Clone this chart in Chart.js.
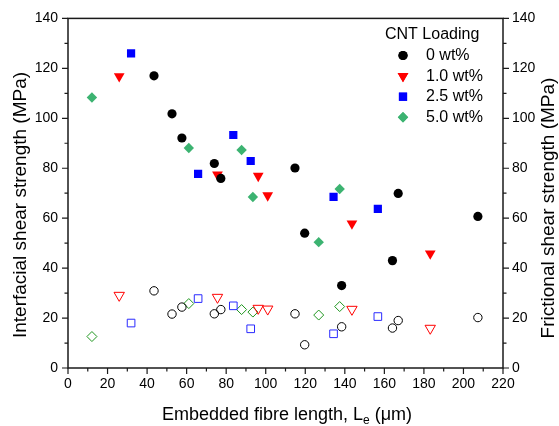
<!DOCTYPE html>
<html>
<head>
<meta charset="utf-8">
<script src="https://cdn.jsdelivr.net/npm/chart.js@4"></script>
<style>
  html, body { margin: 0; padding: 0; background: #fff; }
  #wrap { width: 559px; height: 426px; }
</style>
</head>
<body>
<div id="wrap"><canvas id="chart" width="559" height="426"></canvas></div>
<script>
const loadings = ["0 wt%", "1.0 wt%", "2.5 wt%", "5.0 wt%"];

// embedded length (µm), interfacial shear strength (MPa), frictional shear strength (MPa)
const len0 = [43.5, 52.6, 57.6, 74.0, 77.3, 114.8, 119.7, 138.4, 164.1, 167.0, 207.3];
const ifss0 = [117.0, 101.8, 92.1, 81.9, 75.9, 80.1, 54.0, 33.0, 43.0, 69.9, 60.7];
const fric0 = [30.9, 21.6, 24.4, 21.7, 23.4, 21.7, 9.3, 16.5, 16.0, 19.0, 20.2];

const len1 = [25.9, 75.6, 96.2, 101.0, 143.6, 183.2];
const ifss1 = [116.8, 77.4, 76.9, 69.1, 57.8, 45.8];
const fric1 = [29.1, 28.3, 23.9, 23.6, 23.5, 15.9];

const len25 = [31.9, 65.8, 83.6, 92.4, 134.3, 156.7];
const ifss25 = [126.0, 77.7, 93.3, 82.9, 68.5, 63.7];
const fric25 = [18.0, 27.8, 24.9, 15.7, 13.7, 20.6];

const len5 = [12.1, 61.1, 87.8, 93.5, 126.8, 137.4];
const ifss5 = [108.3, 88.1, 87.3, 68.5, 50.4, 71.7];
const fric5 = [12.6, 25.8, 23.4, 22.4, 21.2, 24.6];

const xTicks = [0, 20, 40, 60, 80, 100, 120, 140, 160, 180, 200, 220];
const yTicks = [0, 20, 40, 60, 80, 100, 120, 140];

const FONT = "'Liberation Sans', Arial, sans-serif";

const pts = (xs, ys) => xs.map((x, i) => ({ x: x, y: ys[i] }));

const styles = [
  { fill: "#000000", open: "#000000", shape: "circle", r: 4.6, ro: 4.2, rot: 0 },
  { fill: "#ff0000", open: "#ff0000", shape: "triangle", r: 6.2, ro: 6, rot: 180 },
  { fill: "#0000ff", open: "#2a2aff", shape: "rect", r: 5.8, ro: 5.4, rot: 0 },
  { fill: "#3cb371", open: "#1e961e", shape: "rectRot", r: 5.2, ro: 5, rot: 0 },
];

const lens = [len0, len1, len25, len5];
const ifss = [ifss0, ifss1, ifss25, ifss5];
const fric = [fric0, fric1, fric25, fric5];

const datasets = [];
loadings.forEach((name, i) => {
  const s = styles[i];
  datasets.push({
    label: name,
    data: pts(lens[i], ifss[i]),
    yAxisID: "y",
    pointStyle: s.shape,
    rotation: s.rot,
    pointRadius: s.r,
    backgroundColor: s.fill,
    borderColor: s.fill,
    borderWidth: 0,
    order: 1,
  });
});
loadings.forEach((name, i) => {
  const s = styles[i];
  datasets.push({
    label: name + " (frictional)",
    data: pts(lens[i], fric[i]),
    yAxisID: "y2",
    pointStyle: s.shape,
    rotation: s.rot,
    pointRadius: s.ro,
    backgroundColor: "rgba(0,0,0,0)",
    borderColor: s.open,
    borderWidth: 1,
    order: 2,
  });
});

// frame, minor/major ticks, axis titles and legend
const framePlugin = {
  id: "frame",
  afterDraw(chart) {
    const ctx = chart.ctx;
    const a = chart.chartArea;
    const xs = chart.scales.x, ys = chart.scales.y;
    ctx.save();
    ctx.strokeStyle = "#1a1a1a";
    ctx.lineWidth = 1.5;
    ctx.strokeRect(a.left, a.top, a.right - a.left, a.bottom - a.top);

    ctx.lineWidth = 1.2;
    ctx.beginPath();
    for (let v = 0; v <= 220; v += 10) {
      const px = xs.getPixelForValue(v);
      const l = v % 20 === 0 ? 6 : 3.5;
      ctx.moveTo(px, a.bottom);
      ctx.lineTo(px, a.bottom + l);
    }
    for (let v = 0; v <= 140; v += 10) {
      const py = ys.getPixelForValue(v);
      const l = v % 20 === 0 ? 6 : 3.5;
      ctx.moveTo(a.left, py);
      ctx.lineTo(a.left - l, py);
      ctx.moveTo(a.right, py);
      ctx.lineTo(a.right + l, py);
    }
    ctx.stroke();

    ctx.fillStyle = "#000";
    // y titles
    ctx.font = "19px " + FONT;
    ctx.textAlign = "center";
    ctx.textBaseline = "middle";
    ctx.save();
    ctx.translate(21, 205);
    ctx.rotate(-Math.PI / 2);
    ctx.fillText("Interfacial shear strength (MPa)", 0, 0);
    ctx.restore();
    ctx.save();
    ctx.translate(549, 208);
    ctx.rotate(-Math.PI / 2);
    ctx.fillText("Frictional shear strength (MPa)", 0, 0);
    ctx.restore();

    // x title with subscript
    ctx.font = "18px " + FONT;
    ctx.textBaseline = "alphabetic";
    ctx.textAlign = "left";
    const t1 = "Embedded fibre length, L";
    const t3 = " (\u03bcm)";
    const w1 = ctx.measureText(t1).width;
    const w3 = ctx.measureText(t3).width;
    ctx.font = "12px " + FONT;
    const w2 = ctx.measureText("e").width;
    const total = w1 + w2 + w3;
    let x0 = 287 - total / 2;
    const base = 420;
    ctx.font = "18px " + FONT;
    ctx.fillText(t1, x0, base);
    ctx.font = "12px " + FONT;
    ctx.fillText("e", x0 + w1, base + 4);
    ctx.font = "18px " + FONT;
    ctx.fillText(t3, x0 + w1 + w2, base);

    // legend
    ctx.font = "16px " + FONT;
    ctx.textBaseline = "middle";
    ctx.fillText("CNT Loading", 385, 35);
    loadings.forEach((name, i) => {
      const s = styles[i];
      const y = 55.5 + i * 20.6;
      ctx.fillStyle = s.fill;
      Chart.helpers.drawPoint(ctx, { pointStyle: s.shape, rotation: s.rot, radius: s.r, borderWidth: 0 }, 403, y);
      ctx.fill();
      ctx.fillStyle = "#000";
      ctx.fillText(name, 426, y);
    });
    ctx.restore();
  },
};

const tickFont = { family: FONT, size: 14 };

new Chart(document.getElementById("chart"), {
  type: "scatter",
  data: { datasets: datasets },
  options: {
    responsive: false,
    animation: false,
    layout: { padding: { top: 18, left: 0, right: 0, bottom: 0 } },
    plugins: { legend: { display: false }, tooltip: { enabled: false } },
    scales: {
      x: {
        type: "linear",
        min: 0,
        max: 220,
        afterBuildTicks: (s) => { s.ticks = xTicks.map((v) => ({ value: v })); },
        ticks: { font: tickFont, color: "#000", padding: 8, maxRotation: 0, autoSkip: false },
        grid: { display: false, drawTicks: false },
        border: { display: false },
        afterFit: (s) => { s.height = 58; },
      },
      y: {
        type: "linear",
        position: "left",
        min: 0,
        max: 140,
        afterBuildTicks: (s) => { s.ticks = yTicks.map((v) => ({ value: v })); },
        ticks: { font: tickFont, color: "#000", padding: 10 },
        grid: { display: false, drawTicks: false },
        border: { display: false },
        afterFit: (s) => { s.width = 68; },
      },
      y2: {
        type: "linear",
        position: "right",
        min: 0,
        max: 140,
        afterBuildTicks: (s) => { s.ticks = yTicks.map((v) => ({ value: v })); },
        ticks: { font: tickFont, color: "#000", padding: 9 },
        grid: { display: false, drawTicks: false },
        border: { display: false },
        afterFit: (s) => { s.width = 56; },
      },
    },
  },
  plugins: [framePlugin],
});
</script>
</body>
</html>
